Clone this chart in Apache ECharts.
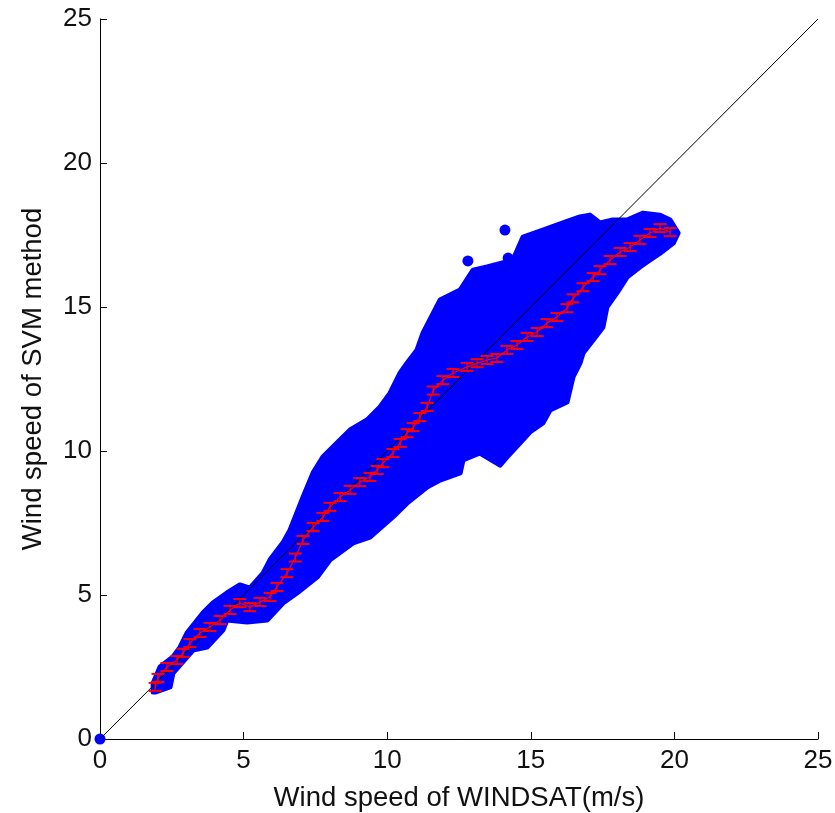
<!DOCTYPE html>
<html>
<head>
<meta charset="utf-8">
<script src="https://cdn.jsdelivr.net/npm/echarts@6/dist/echarts.min.js"></script>
<style>
html,body{margin:0;padding:0;background:#fff;}
#chart{width:835px;height:813px;}
</style>
</head>
<body>
<div id="chart"></div>
<script>
// outline of the blue point cloud (x, y in m/s)
var upperEdge = [
    [1.85,1.63],[1.85,1.94],[2.09,2.50],[2.54,2.85],[2.79,3.19],[3.03,3.68],
    [3.59,4.38],[3.93,4.72],[4.42,5.07],[4.87,5.35],[5.22,5.24],[5.68,5.76],
    [5.92,6.22],[6.37,6.81],[6.62,7.26],[7.07,8.40],[7.42,9.24],[7.76,9.79],
    [8.25,10.28],[8.71,10.73],[9.30,11.08],[9.75,11.53],[10.10,12.01],[10.45,12.71],
    [10.69,13.05],[11.04,13.51],[11.25,14.10],[11.84,15.24],[12.54,15.59],[12.99,16.28],
    [13.48,16.39],[14.38,16.63],[14.73,17.43],[15.42,17.67],[16.12,17.92],[16.71,18.13],
    [17.06,18.19],[17.41,17.92],[17.86,18.02],[18.35,18.02],[18.91,18.26],[19.50,18.19],
    [19.85,18.02],[20.13,17.57]
];
var lowerEdge = [
    [1.92,1.63],[2.44,1.81],[2.54,2.29],[3.24,3.09],[3.73,3.19],[4.28,3.78],
    [4.42,4.13],[5.12,4.06],[5.82,4.13],[6.37,4.72],[6.86,5.07],[7.56,5.62],
    [8.01,6.22],[8.81,6.81],[9.40,7.01],[10.20,7.71],[10.69,8.19],[11.39,8.75],
    [11.84,8.99],[12.54,9.24],[12.64,9.69],[13.23,9.93],[13.93,9.51],[14.17,9.79],
    [14.62,10.28],[14.97,10.66],[15.42,10.97],[15.67,11.42],[16.26,11.70],[16.47,12.57],
    [16.71,13.05],[16.82,13.40],[17.17,13.85],[17.51,14.30],[17.65,15.00],[18.00,15.49],
    [18.35,16.04],[18.80,16.39],[19.15,16.63],[19.50,16.87],[19.96,17.22],[20.13,17.57]
];
// single points standing apart from the cloud
var strayPoints = [[0,0],[14.10,17.67],[12.81,16.60],[14.21,16.70]];

// bin means (red), with their error half-height
var meanPoints = [
    [1.92,1.81],[2.02,2.12],[2.33,2.50],[2.68,2.74],[2.89,2.99],[3.13,3.33],
    [3.48,3.68],[3.83,3.89],[4.18,4.13],[4.53,4.48],[4.87,4.72],[5.22,4.58],
    [5.57,4.76],[5.92,4.93],[6.16,5.28],[6.51,5.76],[6.80,6.30],[7.07,6.91],
    [7.42,7.36],[7.76,7.71],[8.01,8.06],[8.36,8.40],[8.71,8.65],[9.05,8.92],
    [9.40,9.10],[9.65,9.34],[9.85,9.58],[10.20,9.93],[10.45,10.28],[10.69,10.62],
    [10.90,10.83],[11.14,11.18],[11.39,11.53],[11.60,12.10],[11.94,12.46],[12.29,12.71],
    [12.78,12.92],[13.13,13.05],[13.48,13.16],[13.82,13.23],[14.17,13.51],[14.52,13.68],
    [14.87,13.96],[15.22,14.13],[15.56,14.44],[15.91,14.65],[16.26,14.96],[16.47,15.30],
    [16.82,15.69],[17.17,16.04],[17.41,16.28],[17.76,16.63],[18.11,16.91],[18.46,17.08],
    [18.80,17.33],[19.15,17.57],[19.50,17.74],[19.85,17.60]
];
var errHalf = 0.14;

// 1:1 reference line
var diagLine = [[0,0],[25,25]];

var xName = 'Wind speed of WINDSAT(m/s)';
var yName = 'Wind speed of SVM method';

var chart = echarts.init(document.getElementById('chart'));

function renderCloud(params, api){
    var pts = [];
    for (var i=0;i<upperEdge.length;i++){
        pts.push(api.coord(upperEdge[i]));
    }
    for (var j=lowerEdge.length-1;j>=0;j--){
        pts.push(api.coord(lowerEdge[j]));
    }
    return {
        type:'polygon',
        shape:{points:pts},
        style:{fill:'#0000ff',stroke:'#0000ff',lineWidth:5,lineJoin:'round'}
    };
}

function renderErr(params, api){
    var x = api.value(0), y = api.value(1);
    var top = api.coord([x, y+errHalf]);
    var bot = api.coord([x, y-errHalf]);
    var cw = 6.5;
    var st = {stroke:'#ff0000',lineWidth:2};
    return {
        type:'group',
        children:[
            {type:'line',shape:{x1:top[0],y1:top[1],x2:bot[0],y2:bot[1]},style:{stroke:'#ff0000',lineWidth:1.2}},
            {type:'line',shape:{x1:top[0]-cw,y1:top[1],x2:top[0]+cw,y2:top[1]},style:st},
            {type:'line',shape:{x1:bot[0]-cw,y1:bot[1],x2:bot[0]+cw,y2:bot[1]},style:st}
        ]
    };
}

var txtFamily = 'Liberation Sans, Arial, sans-serif';
var nameFont = {color:'#111',fontSize:27.5,fontFamily:txtFamily};

var option = {
    animation:false,
    backgroundColor:'#fff',
    grid:{left:100,right:17,top:19,bottom:74,containLabel:false,outerBoundsMode:'none'},
    xAxis:{
        type:'value',min:0,max:25,interval:5,
        name:xName,nameLocation:'middle',nameGap:45,
        nameTextStyle:nameFont,
        axisLine:{show:true,onZero:false,lineStyle:{color:'#000',width:1}},
        axisTick:{show:true,inside:true,length:7,lineStyle:{color:'#000'}},
        axisLabel:{show:true,margin:9,color:'#111',fontSize:26,fontFamily:txtFamily},
        splitLine:{show:false}
    },
    yAxis:{
        type:'value',min:0,max:25,interval:5,
        name:yName,nameLocation:'middle',nameGap:53,
        nameTextStyle:nameFont,
        axisLine:{show:true,onZero:false,lineStyle:{color:'#000',width:1}},
        axisTick:{show:true,inside:true,length:7,lineStyle:{color:'#000'}},
        axisLabel:{show:true,margin:8,color:'#111',fontSize:26,fontFamily:txtFamily},
        splitLine:{show:false}
    },
    series:[
        {
            type:'custom',
            renderItem:renderCloud,
            data:[[10,10]],
            silent:true,
            z:1
        },
        {
            type:'scatter',
            data:strayPoints,
            symbol:'circle',
            symbolSize:11,
            itemStyle:{color:'#0000ff',opacity:1},
            clip:false,
            z:2
        },
        {
            type:'line',
            data:diagLine,
            symbol:'none',
            lineStyle:{color:'#000',width:1},
            z:3
        },
        {
            type:'line',
            data:meanPoints,
            symbol:'none',
            lineStyle:{color:'#ff0000',width:1.2},
            z:4
        },
        {
            type:'custom',
            renderItem:renderErr,
            data:meanPoints,
            z:5
        }
    ]
};

chart.setOption(option);
</script>
</body>
</html>
